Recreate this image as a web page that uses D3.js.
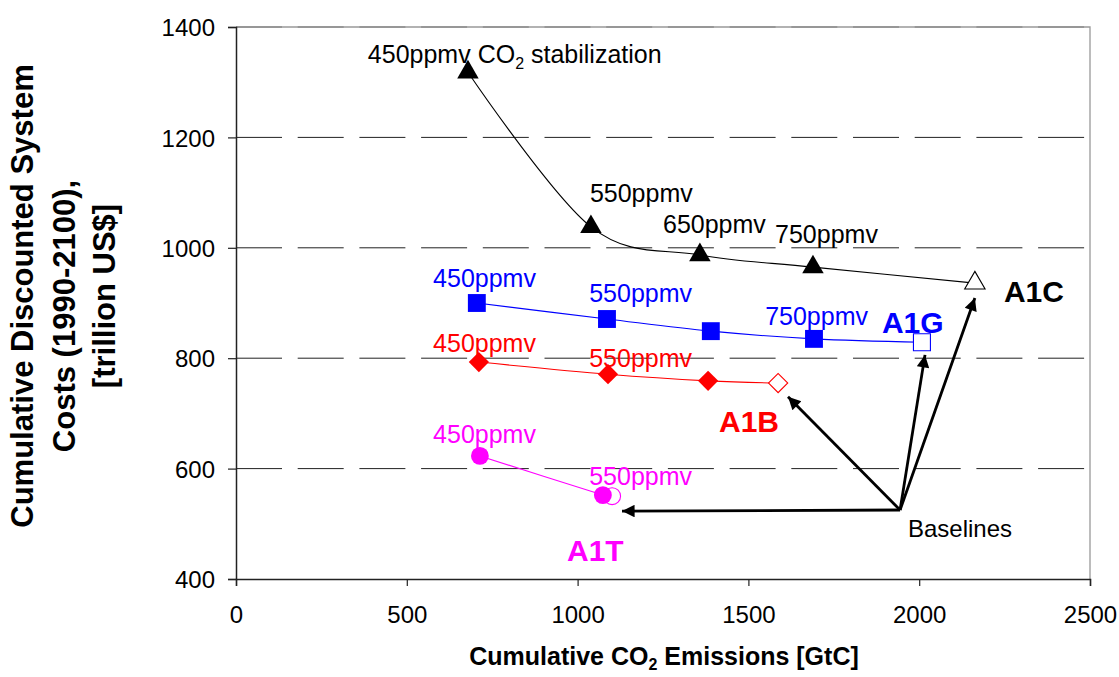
<!DOCTYPE html>
<html>
<head>
<meta charset="utf-8">
<script src="https://cdn.jsdelivr.net/npm/d3@7"></script>
<style>
  body { margin: 0; background: #fff; }
  svg { font-family: "Liberation Sans", Arial, sans-serif; }
</style>
</head>
<body>
<svg id="svg" width="1119" height="677"></svg>
<script>
// values: [cumulative CO2 GtC, cost trillion US$]
var a1cStab = [[679, 1318], [1039, 1038], [1358, 987], [1689, 965]];
var a1cBase = [2163, 936];
var a1gStab = [[705, 900], [1086, 871], [1390, 849], [1692, 835]];
var a1gBase = [2008, 829];
var a1bStab = [[711, 793], [1089, 771], [1382, 759]];
var a1bBase = [1587, 755];
var a1tStab = [[714, 623], [1074, 552]];
var a1tBase = [1101, 550];

var xTicks = [0, 500, 1000, 1500, 2000, 2500];
var yTicks = [400, 600, 800, 1000, 1200, 1400];

// point labels [text, x, y] in data units
var blackLabels = [["550ppmv", 1036, 1083], ["650ppmv", 1250, 1027], ["750ppmv", 1578, 1009]];
var blueLabels = [["450ppmv", 577, 929], ["550ppmv", 1034, 902], ["750ppmv", 1549, 860]];
var redLabels = [["450ppmv", 577, 811], ["550ppmv", 1034, 784]];
var magentaLabels = [["450ppmv", 577, 646], ["550ppmv", 1034, 570]];
var seriesNames = [["A1C", 2248, 902, "#000"], ["A1G", 1891, 846, "#0000ff"], ["A1B", 1414, 666, "#ff0000"], ["A1T", 969, 433, "#ff00ff"]];

// baseline arrows: from one origin to each baseline
var arrowFrom = [1944, 525];
var arrowTo = [[1130, 523], [1616, 730], [2017, 806], [2163, 909]];

var svg = d3.select("#svg"),
    margin = {top: 27, right: 29, bottom: 98, left: 236},
    width = +svg.attr("width") - margin.left - margin.right,
    height = +svg.attr("height") - margin.top - margin.bottom;

var x = d3.scaleLinear().domain([0, 2500]).range([0, width]);
var y = d3.scaleLinear().domain([400, 1400]).range([height, 0]);

svg.append("rect").attr("width", 1119).attr("height", 677).attr("fill", "#fff");

svg.append("defs").append("marker")
    .attr("id", "head")
    .attr("viewBox", "0 0 10 10")
    .attr("refX", 10).attr("refY", 5)
    .attr("markerWidth", 5.5).attr("markerHeight", 4.5)
    .attr("markerUnits", "strokeWidth")
    .attr("orient", "auto")
    .append("path").attr("d", "M0,0L10,5L0,10z").attr("fill", "#000");

var g = svg.append("g").attr("transform", "translate(" + margin.left + "," + margin.top + ")");

// grid lines
g.append("g").selectAll("line")
    .data(yTicks.filter(function (d) { return d > 400; }))
    .enter().append("line")
    .attr("x1", 0).attr("x2", width)
    .attr("y1", function (d) { return y(d); })
    .attr("y2", function (d) { return y(d); })
    .attr("stroke", "#222")
    .attr("stroke-dasharray", "46,15.7");

// frame on top and right
g.append("path")
    .attr("d", "M0," + y(1400) + "H" + width + "V" + height)
    .attr("fill", "none").attr("stroke", "#999").attr("stroke-width", 1.3);

// axes
var xAxis = g.append("g")
    .attr("transform", "translate(0," + height + ")")
    .call(d3.axisBottom(x).tickValues(xTicks).tickSize(7).tickPadding(20).tickFormat(d3.format("d")));
var yAxis = g.append("g")
    .call(d3.axisLeft(y).tickValues(yTicks).tickSize(8).tickPadding(13).tickFormat(d3.format("d")));

[xAxis, yAxis].forEach(function (a) {
    a.select(".domain").attr("stroke", "#222").attr("stroke-width", 1.5);
    a.selectAll(".tick line").attr("stroke", "#222").attr("stroke-width", 1.2);
    a.selectAll(".tick text").attr("font-family", "Liberation Sans, Arial, sans-serif")
        .attr("font-size", 24).attr("fill", "#000");
});
xAxis.selectAll(".tick text").attr("dy", "0.71em");
yAxis.selectAll(".tick text").attr("dy", "0.36em");

// series
var line = d3.line()
    .x(function (d) { return x(d[0]); })
    .y(function (d) { return y(d[1]); })
    .curve(d3.curveCatmullRom.alpha(0));

var series = [
    {stab: a1cStab, base: a1cBase, color: "#000", shape: d3.symbolTriangle, size: 200, rot: 0},
    {stab: a1gStab, base: a1gBase, color: "#0000ff", shape: d3.symbolSquare, size: 320, rot: 0},
    {stab: a1bStab, base: a1bBase, color: "#ff0000", shape: d3.symbolSquare, size: 205, rot: 45},
    {stab: a1tStab, base: a1tBase, color: "#ff00ff", shape: d3.symbolCircle, size: 250, rot: 0}
];

series.forEach(function (s) {
    g.append("path")
        .datum(s.stab.concat([s.base]))
        .attr("d", line)
        .attr("fill", "none")
        .attr("stroke", s.color)
        .attr("stroke-width", 1.1);

    // open baseline marker
    g.append("path")
        .attr("d", d3.symbol().type(s.shape).size(s.size * 0.9)())
        .attr("transform", "translate(" + x(s.base[0]) + "," + y(s.base[1]) + ") rotate(" + s.rot + ")")
        .attr("fill", "#fff")
        .attr("stroke", s.color)
        .attr("stroke-width", 1.1);

    g.append("g").selectAll("path")
        .data(s.stab)
        .enter().append("path")
        .attr("d", d3.symbol().type(s.shape).size(s.size)())
        .attr("transform", function (d) { return "translate(" + x(d[0]) + "," + y(d[1]) + ") rotate(" + s.rot + ")"; })
        .attr("fill", s.color);
});

// arrows
g.append("g").selectAll("line")
    .data(arrowTo)
    .enter().append("line")
    .attr("x1", x(arrowFrom[0])).attr("y1", y(arrowFrom[1]))
    .attr("x2", function (d) { return x(d[0]); })
    .attr("y2", function (d) { return y(d[1]); })
    .attr("stroke", "#000")
    .attr("stroke-width", 2.8)
    .attr("marker-end", "url(#head)");

// text labels
function addLabels(list, color) {
    g.append("g").selectAll("text")
        .data(list)
        .enter().append("text")
        .attr("x", function (d) { return x(d[1]); })
        .attr("y", function (d) { return y(d[2]); })
        .attr("font-size", 25)
        .attr("fill", color)
        .text(function (d) { return d[0]; });
}
addLabels(blackLabels, "#000");
addLabels(blueLabels, "#0000ff");
addLabels(redLabels, "#ff0000");
addLabels(magentaLabels, "#ff00ff");

var stabText = g.append("text")
    .attr("x", x(386)).attr("y", y(1335))
    .attr("font-size", 25);
stabText.append("tspan").text("450ppmv CO");
stabText.append("tspan").attr("font-size", 16).attr("dy", 6).text("2");
stabText.append("tspan").attr("dy", -6).text(" stabilization");

g.append("g").selectAll("text")
    .data(seriesNames)
    .enter().append("text")
    .attr("x", function (d) { return x(d[1]); })
    .attr("y", function (d) { return y(d[2]); })
    .attr("font-size", 30)
    .attr("font-weight", "bold")
    .attr("fill", function (d) { return d[3]; })
    .text(function (d) { return d[0]; });

g.append("text")
    .attr("x", x(1967)).attr("y", y(476))
    .attr("font-size", 24)
    .text("Baselines");

// axis titles
var xTitle = svg.append("text")
    .attr("x", 664).attr("y", 665)
    .attr("text-anchor", "middle")
    .attr("font-size", 25)
    .attr("font-weight", "bold");
xTitle.append("tspan").text("Cumulative CO");
xTitle.append("tspan").attr("font-size", 16).attr("dy", 5).text("2");
xTitle.append("tspan").attr("dy", -5).text(" Emissions [GtC]");

var yTitleLines = [["Cumulative Discounted System", 33, 296], ["Costs (1990-2100),", 75, 316], ["[trillion US$]", 115, 296]];
svg.append("g").selectAll("text")
    .data(yTitleLines)
    .enter().append("text")
    .attr("transform", function (d) { return "translate(" + d[1] + "," + d[2] + ") rotate(-90)"; })
    .attr("text-anchor", "middle")
    .attr("font-size", 31)
    .attr("font-weight", "bold")
    .text(function (d) { return d[0]; });
</script>
</body>
</html>
